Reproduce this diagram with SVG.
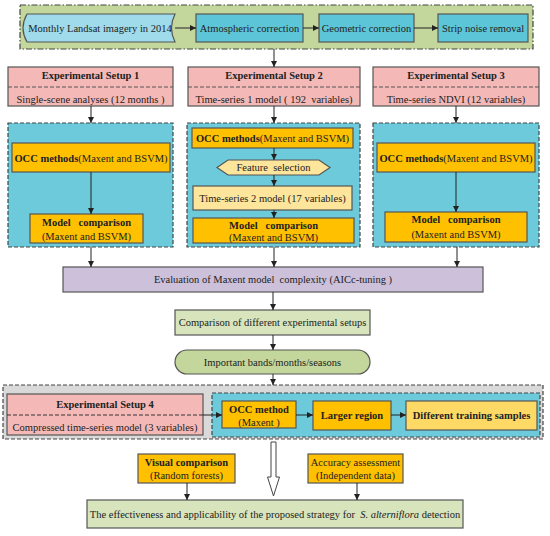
<svg xmlns="http://www.w3.org/2000/svg" width="550" height="536" viewBox="0 0 550 536">
<defs>
<marker id="ah" markerUnits="userSpaceOnUse" markerWidth="6" markerHeight="6" refX="6" refY="3" orient="auto">
<path d="M0,0 L6,3 L0,6 Z" fill="#222"/>
</marker>
<style>
text{font-family:"Liberation Serif","Times New Roman",serif;font-size:10.5px;fill:#222;text-anchor:middle;white-space:pre}
.b{font-weight:bold}
.bx{stroke:#555;stroke-width:1.2}
.grp{stroke:#444;stroke-width:1.2;stroke-dasharray:4,2}
.cn{stroke:#222;stroke-width:1;fill:none;marker-end:url(#ah)}
.cyan{fill:#5dc5d8}
.pink{fill:#f4b9b7}
.blue{fill:#6ccadb}
.gold{fill:#ffc000}
.lt{fill:#fde59b}
.lg{fill:#d8e4bc}
</style>
</defs>
<rect width="550" height="536" fill="#fff"/>

<g id="banner">
<rect x="20" y="5" width="513" height="44" fill="#c3d69b" stroke="#444" stroke-width="1.2" stroke-dasharray="6,2,1.5,2"/>
</g>
<g id="landsat">
<path d="M27,14 L175,14 Q168,28 175,42 L27,42 Q19,28 27,14 Z" fill="#9fdbea" class="bx"/>
<text x="100" y="31.5">Monthly Landsat imagery in 2014</text>
</g>
<g id="atmo">
<rect x="196" y="14" width="107" height="28" class="bx cyan"/>
<text x="249.5" y="31.5">Atmospheric correction</text>
</g>
<g id="geo">
<rect x="319" y="14" width="95" height="28" class="bx cyan"/>
<text x="366.5" y="31.5">Geometric correction</text>
</g>
<g id="strip">
<rect x="438" y="14" width="90" height="28" class="bx cyan"/>
<text x="483" y="31.5">Strip noise removal</text>
</g>

<g id="setup1">
<rect x="8" y="67" width="165" height="39" class="bx pink"/>
<line x1="8" y1="87" x2="173" y2="87" stroke="#555" stroke-dasharray="4,2"/>
<text x="90.5" y="79" class="b">Experimental Setup 1</text>
<text x="90.5" y="103">Single-scene analyses (12 months )</text>
</g>
<g id="setup2">
<rect x="188" y="67" width="172" height="39" class="bx pink"/>
<line x1="188" y1="87" x2="360" y2="87" stroke="#555" stroke-dasharray="4,2"/>
<text x="274" y="79" class="b">Experimental Setup 2</text>
<text x="274" y="103">Time-series 1 model ( 192  variables)</text>
</g>
<g id="setup3">
<rect x="373" y="67" width="166" height="39" class="bx pink"/>
<line x1="373" y1="87" x2="539" y2="87" stroke="#555" stroke-dasharray="4,2"/>
<text x="456" y="79" class="b">Experimental Setup 3</text>
<text x="456" y="103">Time-series NDVI (12 variables)</text>
</g>

<g id="col1">
<rect x="8" y="123" width="165" height="124" class="grp blue"/>
<rect x="12" y="143" width="158" height="29" class="bx gold"/>
<text x="91" y="161.5"><tspan class="b">OCC methods</tspan>(Maxent and BSVM)</text>
<rect x="30" y="214" width="113" height="29" class="bx gold"/>
<text x="86.5" y="225.5" class="b">Model   comparison</text>
<text x="86.5" y="239.5">(Maxent and BSVM)</text>
</g>
<g id="col2">
<rect x="187" y="123" width="173" height="124" class="grp blue"/>
<rect x="192" y="128" width="161" height="20" class="bx gold"/>
<text x="272.5" y="141.5"><tspan class="b">OCC methods</tspan>(Maxent and BSVM)</text>
<path d="M217,167.5 L228,160 L319,160 L330,167.5 L319,175 L228,175 Z" class="bx lt"/>
<text x="273.5" y="171">Feature  selection</text>
<rect x="193" y="186" width="159" height="24" class="bx lt"/>
<text x="272.5" y="201.5">Time-series 2 model (17 variables)</text>
<rect x="193" y="218" width="161" height="25" class="bx gold"/>
<text x="273.5" y="229" class="b">Model   comparison</text>
<text x="273.5" y="240.5">(Maxent and BSVM)</text>
</g>
<g id="col3">
<rect x="373" y="123" width="166" height="124" class="grp blue"/>
<rect x="377" y="143" width="158" height="29" class="bx gold"/>
<text x="456" y="161.5"><tspan class="b">OCC methods</tspan>(Maxent and BSVM)</text>
<rect x="385" y="212" width="142" height="30" class="bx gold"/>
<text x="456" y="223" class="b">Model   comparison</text>
<text x="456" y="237.5">(Maxent and BSVM)</text>
</g>

<g id="eval">
<rect x="63" y="267" width="420" height="25" fill="#ccc0da" class="bx"/>
<text x="273" y="283">Evaluation of Maxent model  complexity (AICc-tuning )</text>
</g>
<g id="compare">
<rect x="175" y="310" width="195" height="25" class="bx lg"/>
<text x="272.5" y="326">Comparison of different experimental setups</text>
</g>
<g id="important">
<rect x="175" y="350" width="195" height="24" rx="12" ry="12" fill="#c3d69b" class="bx"/>
<text x="272.5" y="365.5">Important bands/months/seasons</text>
</g>

<g id="group4">
<rect x="3" y="385" width="540" height="54" fill="#d9d9d9" class="grp"/>
</g>
<g id="setup4">
<rect x="7" y="394" width="196" height="41" class="bx pink"/>
<line x1="7" y1="415" x2="203" y2="415" stroke="#333" stroke-dasharray="4,2"/>
<text x="105" y="407.5" class="b">Experimental Setup 4</text>
<text x="105" y="431">Compressed time-series model (3 variables)</text>
</g>
<g id="blue4">
<rect x="212" y="393" width="328" height="44" class="grp blue"/>
</g>
<g id="occ4">
<rect x="222" y="401" width="74" height="27" class="bx gold"/>
<text x="259" y="412.5" class="b">OCC method</text>
<text x="259" y="425.5">(Maxent )</text>
</g>
<g id="larger">
<rect x="313" y="401" width="78" height="29" class="bx gold"/>
<text x="352" y="419" class="b">Larger region</text>
</g>
<g id="training">
<rect x="406" y="401" width="131" height="29" fill="#ffd966" class="bx"/>
<text x="471.5" y="419" class="b">Different training samples</text>
</g>

<g id="visual">
<rect x="138" y="454" width="97" height="29" class="bx gold"/>
<text x="186.5" y="465.5" class="b">Visual comparison</text>
<text x="186.5" y="479">(Random forests)</text>
</g>
<g id="accuracy">
<rect x="308" y="454" width="95" height="29" class="bx gold"/>
<text x="355.5" y="465.5">Accuracy assessment</text>
<text x="355.5" y="479">(Independent data)</text>
</g>
<g id="final">
<rect x="87" y="500" width="376" height="28" class="bx lg"/>
<text x="275" y="518">The effectiveness and applicability of the proposed strategy for  <tspan font-style="italic">S. alterniflora</tspan> detection</text>
</g>

<g id="connectors">
<line x1="175" y1="28" x2="196" y2="28" class="cn"/>
<line x1="303" y1="28" x2="319" y2="28" class="cn"/>
<line x1="414" y1="28" x2="438" y2="28" class="cn"/>
<line x1="274" y1="49" x2="274" y2="67" class="cn"/>
<line x1="91" y1="106" x2="91" y2="123" class="cn"/>
<line x1="274" y1="106" x2="274" y2="123" class="cn"/>
<line x1="456" y1="106" x2="456" y2="123" class="cn"/>
<line x1="91" y1="172" x2="91" y2="214" class="cn"/>
<line x1="274" y1="148" x2="274" y2="160" class="cn"/>
<line x1="274" y1="175" x2="274" y2="186" class="cn"/>
<line x1="274" y1="210" x2="274" y2="218" class="cn"/>
<line x1="456" y1="172" x2="456" y2="212" class="cn"/>
<line x1="91" y1="247" x2="91" y2="267" class="cn"/>
<line x1="274" y1="247" x2="274" y2="267" class="cn"/>
<line x1="457" y1="247" x2="457" y2="267" class="cn"/>
<line x1="273" y1="292" x2="273" y2="310" class="cn"/>
<line x1="273" y1="335" x2="273" y2="350" class="cn"/>
<line x1="273" y1="374" x2="273" y2="385" class="cn"/>
<line x1="203" y1="415" x2="222" y2="415" class="cn"/>
<line x1="296" y1="415" x2="313" y2="415" class="cn"/>
<line x1="391" y1="415" x2="406" y2="415" class="cn"/>
<line x1="187" y1="483" x2="187" y2="500" class="cn"/>
<line x1="357" y1="483" x2="357" y2="500" class="cn"/>
<path d="M271,442 L276,442 L276,477 L279.5,477 L273.5,496 L267.5,477 L271,477 Z" fill="#fff" stroke="#444" stroke-width="1"/>
</g>
</svg>
